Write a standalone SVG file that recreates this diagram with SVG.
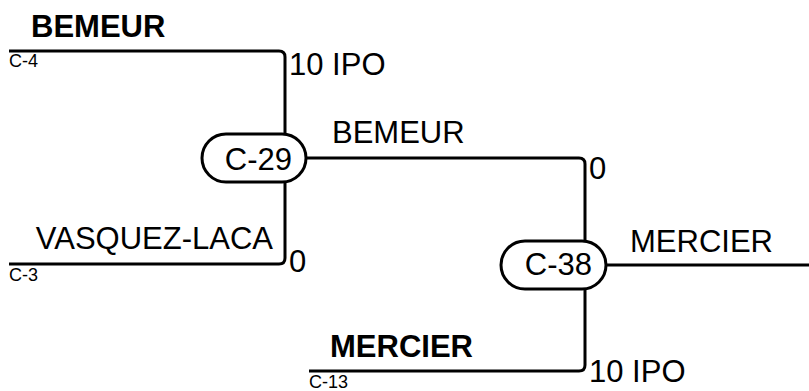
<svg xmlns="http://www.w3.org/2000/svg" width="809" height="391" viewBox="0 0 809 391">
<style>
.w{fill:none;stroke:#000;stroke-width:3}
.n{fill:#fff;stroke:#000;stroke-width:3}
.t{font-family:"Liberation Sans",Arial,sans-serif;font-size:31px;fill:#000}
.b{font-weight:bold}
.s{font-family:"Liberation Sans",Arial,sans-serif;font-size:18px;fill:#000}
</style>
<rect width="809" height="391" fill="#fff"/>
<g id="connectors">
<path class="w" d="M9,51 H279 Q285,51 285,57 V134"/>
<path class="w" d="M9,264 H279 Q285,264 285,258 V182"/>
<path class="w" d="M306,158 H579 Q585,158 585,164 V241"/>
<path class="w" d="M309,371 H579 Q585,371 585,365 V289"/>
<path class="w" d="M606,265 H809"/>
</g>
<g id="labels">
<text class="t b" x="31" y="37">BEMEUR</text>
<text class="s" x="9" y="67">C-4</text>
<text class="t" x="289" y="75">10 IPO</text>
<text class="t" x="273" y="249" text-anchor="end">VASQUEZ-LACA</text>
<text class="t" x="289" y="272">0</text>
<text class="s" x="9" y="281">C-3</text>
<text class="t" x="332" y="143">BEMEUR</text>
<text class="t" x="589" y="179">0</text>
<text class="t" x="630" y="252">MERCIER</text>
<text class="t b" x="330" y="357">MERCIER</text>
<text class="s" x="309" y="388">C-13</text>
<text class="t" x="589" y="382">10 IPO</text>
</g>
<g id="C-29">
<rect class="n" x="202" y="134" width="104" height="48" rx="24"/>
<text class="t" x="292" y="170" text-anchor="end">C-29</text>
</g>
<g id="C-38">
<rect class="n" x="501" y="241" width="105" height="48" rx="24"/>
<text class="t" x="592" y="275" text-anchor="end">C-38</text>
</g>
</svg>
